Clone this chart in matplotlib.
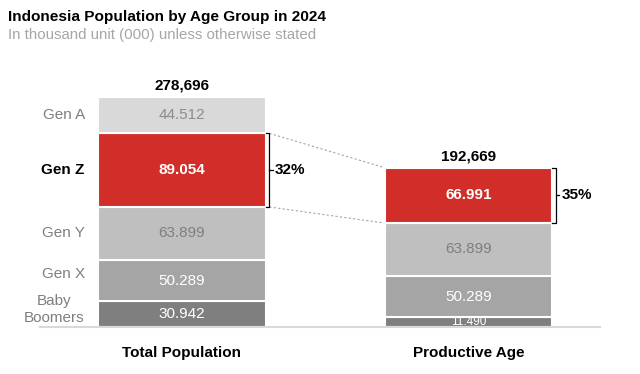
import numpy as np
import matplotlib
matplotlib.use("Agg")
import matplotlib.pyplot as plt

plt.rcParams["font.family"] = ["Liberation Sans", "DejaVu Sans"]

# values in thousand, bottom to top
GROUPS = ["Baby\nBoomers", "Gen X", "Gen Y", "Gen Z", "Gen A"]
TOTAL_POP = [30942, 50289, 63899, 89054, 44512]
PRODUCTIVE = [11490, 50289, 63899, 66991]
BARS = ["Total Population", "Productive Age"]

SEG_COLORS = ["#7f7f7f", "#a5a5a5", "#bfbfbf", "#d12e2a", "#d9d9d9"]
TXT_COLORS = ["white", "white", "#7f7f7f", "white", "#8c8c8c"]
RED_IDX = 3

fig = plt.figure(figsize=(6.4, 3.74), dpi=100)
ax = fig.add_axes([40 / 640, 47 / 374, 560 / 640, 267 / 374])
ax.set_xlim(-0.4956, 1.459)
ax.set_ylim(0, 267 / 0.827 * 1000)
width = 0.586


def fmt_dot(v):
    return f"{v:,}".replace(",", ".")


for xi, series in enumerate([TOTAL_POP, PRODUCTIVE]):
    bottom = 0
    for i, v in enumerate(series):
        ax.bar(xi, v, width, bottom=bottom, color=SEG_COLORS[i],
               edgecolor="white", linewidth=1.5, zorder=2)
        fs = 11 if v > 20000 else 8.5
        bold = "bold" if i == RED_IDX else "normal"
        ax.text(xi, bottom + v / 2, fmt_dot(v), ha="center", va="center",
                color=TXT_COLORS[i], fontsize=fs, fontweight=bold, zorder=3)
        bottom += v
    ax.text(xi, bottom + 5000, f"{bottom:,}", ha="center", va="bottom",
            fontsize=11, fontweight="bold")

    # bracket around Gen Z
    lo = sum(series[:RED_IDX])
    hi = lo + series[RED_IDX]
    bx = xi + width / 2 + 0.012
    ax.plot([bx - 0.012, bx, bx, bx - 0.012], [hi, hi, lo, lo],
            color="black", lw=0.9, zorder=3, clip_on=False)
    ax.plot([bx, bx + 0.012], [(lo + hi) / 2] * 2, color="black", lw=0.9)
    pct = series[RED_IDX] / bottom * 100
    ax.text(bx + 0.02, (lo + hi) / 2, f"{pct:.0f}%", ha="left", va="center",
            fontsize=11, fontweight="bold")

# dashed connectors between the Gen Z segments
lo1 = sum(TOTAL_POP[:RED_IDX])
hi1 = lo1 + TOTAL_POP[RED_IDX]
lo2 = sum(PRODUCTIVE[:RED_IDX])
hi2 = lo2 + PRODUCTIVE[RED_IDX]
for a, b in [(hi1, hi2), (lo1, lo2)]:
    ax.plot([width / 2 + 0.012, 1 - width / 2], [a, b], color="#a6a6a6",
            lw=0.8, ls=(0, (2, 2)), zorder=1)

# group labels on the left
offsets = [6000, 8000, 0, 0, 0]
bottom = 0
for i, (g, v) in enumerate(zip(GROUPS, TOTAL_POP)):
    is_red = i == RED_IDX
    ax.text(-0.339, bottom + v / 2 + offsets[i], g, ha="right", va="center",
            multialignment="center", fontsize=11,
            color="black" if is_red else "#7f7f7f",
            fontweight="bold" if is_red else "normal", linespacing=1.3)
    bottom += v

ax.set_xticks([0, 1])
ax.set_xticklabels(BARS, fontsize=11, fontweight="bold")
ax.tick_params(axis="x", length=0, pad=14)
ax.set_yticks([])
for s in ["top", "right", "left"]:
    ax.spines[s].set_visible(False)
ax.spines["bottom"].set_color("#d9d9d9")
ax.spines["bottom"].set_linewidth(1.5)

fig.text(8 / 640, 1 - 17 / 374, "Indonesia Population by Age Group in 2024",
         fontsize=11.1, fontweight="bold", va="center")
fig.text(8 / 640, 1 - 35 / 374, "In thousand unit (000) unless otherwise stated",
         fontsize=10.8, color="#a6a6a6", va="center")

fig.savefig("out.png", dpi=100, facecolor="white")
